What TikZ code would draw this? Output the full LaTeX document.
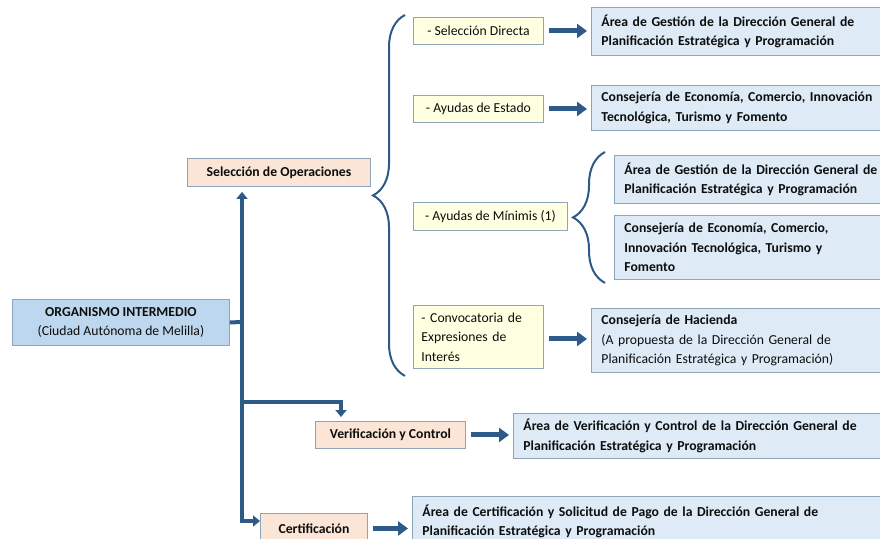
\documentclass[tikz,border=0pt]{standalone}
\usepackage{fontspec}
\setmainfont{Carlito}
\usetikzlibrary{arrows.meta,decorations.pathreplacing}
\definecolor{navy}{HTML}{2E5A87}
\definecolor{edge}{HTML}{8EA4B8}
\definecolor{orgfill}{HTML}{BDD7EE}
\definecolor{peach}{HTML}{FBE5D6}
\definecolor{cream}{HTML}{FFFFE1}
\definecolor{paleblue}{HTML}{DEEBF7}
\tikzstyle{box} = [rectangle,draw=edge,line width=0.9pt,anchor=north west,inner ysep=0pt,text=black!95]
\tikzstyle{org} = [box,fill=orgfill,align=center]
\tikzstyle{stage} = [box,fill=peach,font=\bfseries]
\tikzstyle{route} = [box,fill=cream,align=left,inner xsep=8pt]
\tikzstyle{body} = [box,fill=paleblue,align=left,inner xsep=10pt,text width=500pt]
\tikzstyle{fat} = [draw=navy,line width=5pt,-{Triangle[length=10pt,width=14pt]},shorten <=5pt,shorten >=4pt]
\tikzstyle{flow} = [draw=navy,line width=4pt,-{Triangle[length=7pt,width=11pt]}]
\tikzstyle{curly} = [draw=navy,line width=2pt,decorate,decoration={brace,amplitude=32pt}]

\begin{document}
\fontsize{13.7}{19.5}\selectfont
\begin{tikzpicture}[x=1pt,y=-1pt]
    	\useasboundingbox (0,0) rectangle (880,538);
    	\clip (0,0) rectangle (880,538);

    	% left column
    	\node[org,minimum width=217pt,minimum height=46pt](org) at (12,299) {\textbf{ORGANISMO INTERMEDIO}\\(Ciudad Autónoma de Melilla)};
    	\node[stage,minimum width=183pt,minimum height=28pt](sel) at (187,158) {Selección de Operaciones};
    	\node[stage,minimum width=150pt,minimum height=27pt](ver) at (315,421) {Verificación y Control};
    	\node[stage,minimum width=107pt,minimum height=30pt](cert) at (260,513) {Certificación};

    	% procedures
    	\node[route,minimum width=130pt,minimum height=27pt](direct) at (413,17) {- Selección Directa};
    	\node[route,minimum width=130pt,minimum height=27pt](state) at (413,95) {- Ayudas de Estado};
    	\node[route,minimum width=154pt,minimum height=28pt](minimis) at (413,202) {- Ayudas de Mínimis (1)};
    	\node[route,text width=114pt,minimum height=63pt](call) at (413,305) {- Convocatoria de\\Expresiones de\\Interés};

    	% responsible bodies
    	\node[body,minimum height=48pt](direct-body) at (591,7) {\textbf{Área de Gestión de la Dirección General de}\\\textbf{Planificación Estratégica y Programación}};
    	\node[body,minimum height=45pt](state-body) at (591,85) {\textbf{Consejería de Economía, Comercio, Innovación}\\\textbf{Tecnológica, Turismo y Fomento}};
    	\node[body,minimum height=48pt](minimis-area) at (614,155) {\textbf{Área de Gestión de la Dirección General de}\\\textbf{Planificación Estratégica y Programación}};
    	\node[body,minimum height=64pt](minimis-dept) at (614,215) {\textbf{Consejería de Economía, Comercio,}\\\textbf{Innovación Tecnológica, Turismo y}\\\textbf{Fomento}};
    	\node[body,minimum height=64pt](call-body) at (591,308) {\textbf{Consejería de Hacienda}\\(A propuesta de la Dirección General de\\Planificación Estratégica y Programación)};
    	\node[body,minimum height=45pt](ver-body) at (513,413) {\textbf{Área de Verificación y Control de la Dirección General de}\\\textbf{Planificación Estratégica y Programación}};
    	\node[body,minimum height=50pt](cert-body) at (412,496) {\textbf{Área de Certificación y Solicitud de Pago de la Dirección General de}\\\textbf{Planificación Estratégica y Programación}};

    	% trunk
    	\coordinate (trunk) at (242,322);
    	\coordinate (verbend) at (341,402);
    	\draw[draw=navy,line width=4pt] (org.east) -- (trunk);
    	\draw[flow] (trunk) -- ([yshift=-5pt]sel.south -| trunk);
    	\draw[flow] (trunk) |- (verbend) -- ([yshift=4pt]verbend |- ver.north);
    	\draw[flow] (trunk) |- ([yshift=-8pt]cert.north west);

    	% braces
    	\draw[curly] ([xshift=-8pt,yshift=-7pt]call.south west) -- ([xshift=-8pt,yshift=2pt]direct.north west);
    	\draw[curly] ([xshift=-9pt,yshift=-3pt]minimis-dept.south west) -- ([xshift=-9pt,yshift=3pt]minimis-area.north west);

    	% fat arrows
    	\draw[fat] (direct.east) -- (direct.east -| direct-body.west);
    	\draw[fat] (state.east) -- (state.east -| state-body.west);
    	\draw[fat] ([yshift=-2pt]call.east) -- ([yshift=-2pt]call.east -| call-body.west);
    	\draw[fat] (ver.east) -- (ver.east -| ver-body.west);
    	\draw[fat] (cert.east) -- (cert.east -| cert-body.west);

\end{tikzpicture}
\end{document}
